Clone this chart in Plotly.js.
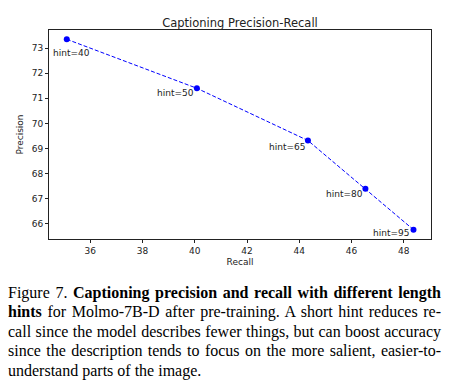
<!DOCTYPE html>
<html>
<head>
<meta charset="utf-8">
<script src="https://cdn.plot.ly/plotly-3.0.1.min.js"></script>
<style>
  html, body { margin: 0; padding: 0; background: #fff; }
  #wrap { position: relative; width: 452px; height: 385px; overflow: hidden; }
  #chart { position: absolute; left: 0; top: 0; width: 452px; height: 270px; }
  #caption { position: absolute; left: 8px; top: 283px; width: 433px;
    font-family: "Liberation Serif", "Times New Roman", serif; font-size: 16px;
    line-height: 19.4px; color: #000; }
  #caption .ln { text-align: justify; text-align-last: justify; white-space: nowrap; }
  #caption .ln.last { text-align-last: left; }
</style>
</head>
<body>
<div id="wrap">
  <div id="chart"></div>
  <div id="caption">
    <div class="ln">Figure 7. <b>Captioning precision and recall with different length</b></div>
    <div class="ln"><b>hints</b> for Molmo-7B-D after pre-training. A short hint reduces re-</div>
    <div class="ln">call since the model describes fewer things, but can boost accuracy</div>
    <div class="ln">since the description tends to focus on the more salient, easier-to-</div>
    <div class="ln last">understand parts of the image.</div>
  </div>
</div>
<script>
// Data
const hintLabels = ["hint=40", "hint=50", "hint=65", "hint=80", "hint=95"];
const recall = [35.10, 40.08, 44.33, 46.53, 48.37];
const precision = [73.35, 71.40, 69.32, 67.40, 65.77];
const xTicks = [36, 38, 40, 42, 44, 46, 48];
const yTicks = [66, 67, 68, 69, 70, 71, 72, 73];

// Label offsets (screen px) – layout only
const labelShiftX = [5, -21, -21, -21, -22];
const labelShiftY = [-14, -5, -6, -5, -3];

const font = "DejaVu Sans, sans-serif";

const trace = {
  x: recall, y: precision, type: "scatter", mode: "lines+markers",
  line: { color: "#0000ff", width: 1, dash: "4px,2px" },
  marker: { color: "#0000ff", size: 6 },
  hoverinfo: "skip"
};

const annotations = hintLabels.map((t, i) => ({
  x: recall[i], y: precision[i], xref: "x", yref: "y", text: t,
  showarrow: false, xshift: labelShiftX[i], yshift: labelShiftY[i],
  font: { family: font, size: 9, color: "#222" }
}));

const axisCommon = {
  showline: true, mirror: true, linecolor: "#222", linewidth: 1,
  showgrid: false, zeroline: false, ticks: "outside", ticklen: 3,
  tickwidth: 1, tickcolor: "#222",
  tickfont: { family: font, size: 9, color: "#222" }
};

const layout = {
  width: 452, height: 270,
  margin: { l: 49, r: 21, t: 30, b: 31, pad: 0 },
  paper_bgcolor: "#fff", plot_bgcolor: "#fff",
  showlegend: false,
  title: { text: "Captioning Precision-Recall", font: { family: font, size: 11.5, color: "#222" },
           x: 0.531, xanchor: "center", y: 1 - 23 / 270, yanchor: "middle", yref: "container" },
  xaxis: Object.assign({}, axisCommon, {
    range: [34.42, 49.04], tickvals: xTicks, ticktext: xTicks.map(String),
    title: { text: "Recall", font: { family: font, size: 9, color: "#222" }, standoff: 3 }
  }),
  yaxis: Object.assign({}, axisCommon, {
    range: [65.40, 73.72], tickvals: yTicks, ticktext: yTicks.map(String),
    title: { text: "Precision", font: { family: font, size: 9, color: "#222" }, standoff: 6 }
  }),
  annotations: annotations
};

Plotly.newPlot("chart", [trace], layout, { staticPlot: true, displayModeBar: false });
</script>
</body>
</html>
